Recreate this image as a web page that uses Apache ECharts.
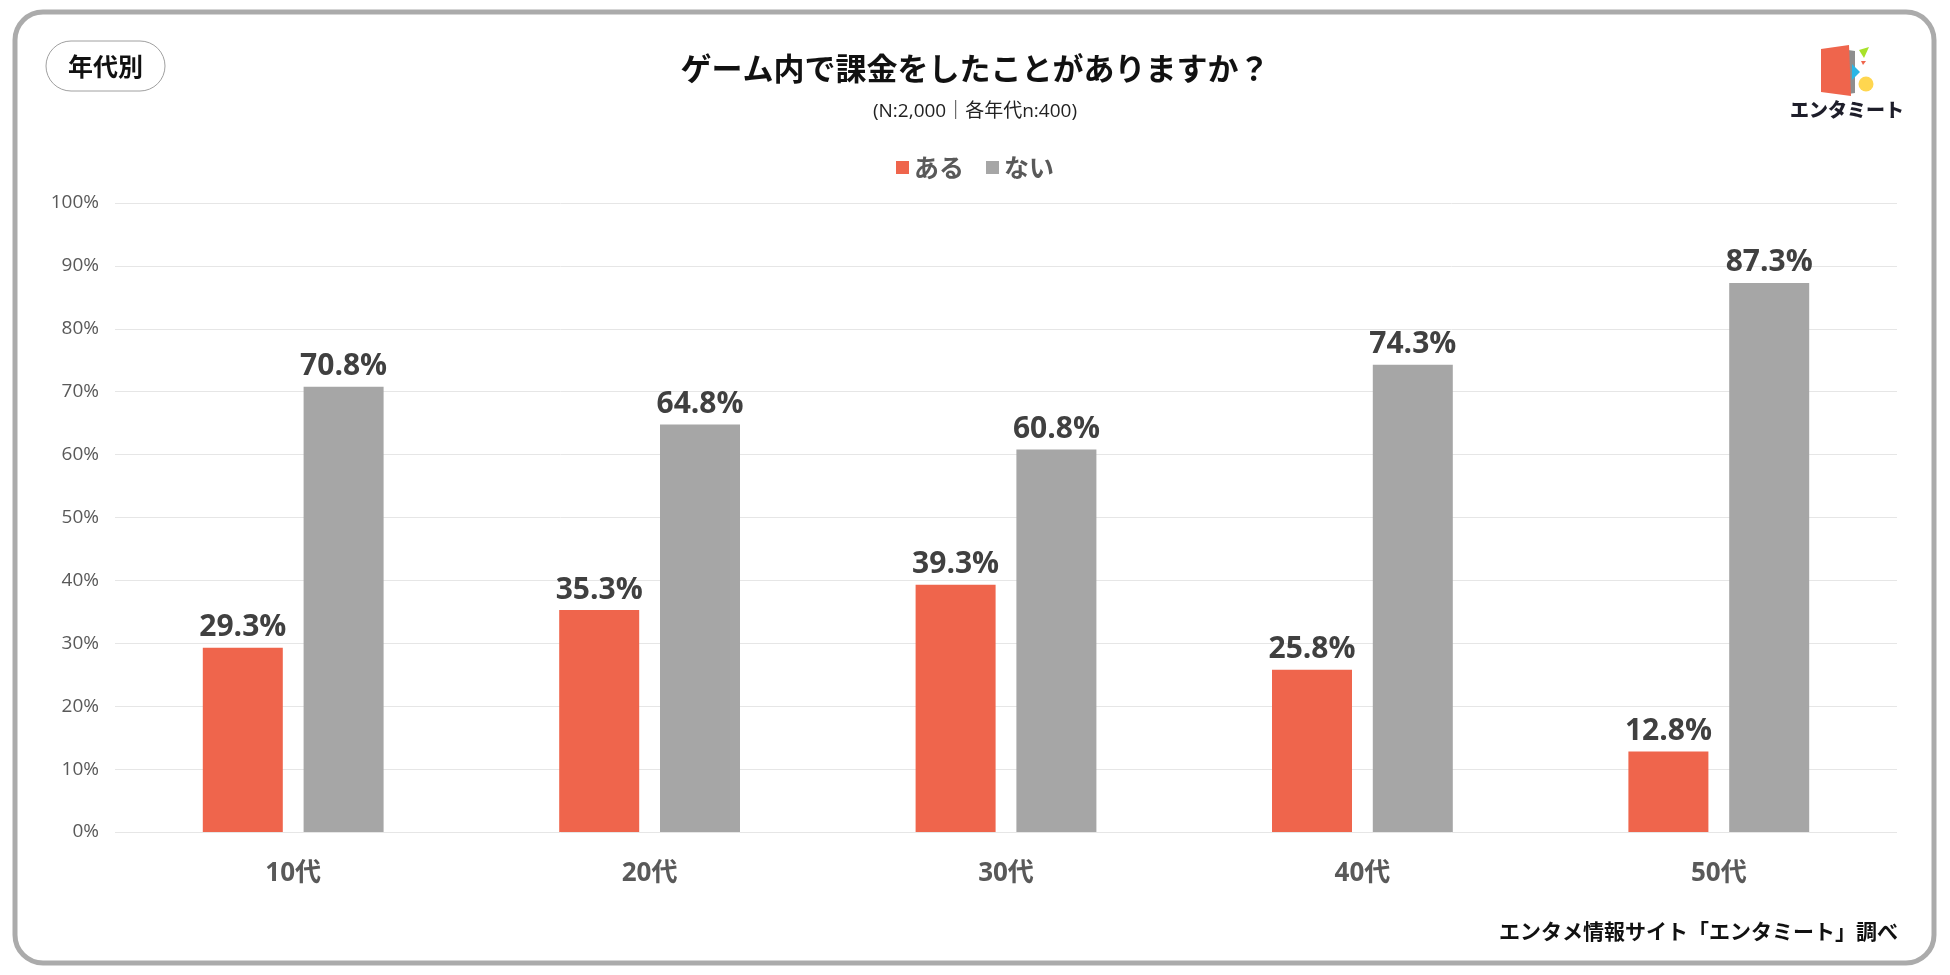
<!DOCTYPE html>
<html>
<head>
<meta charset="utf-8">
<script src="https://cdn.jsdelivr.net/npm/echarts@6/dist/echarts.min.js"></script>
<style>
html,body{margin:0;padding:0;background:#fff;}
#c{width:1950px;height:975px;}
</style>
</head>
<body>
<div id="c"></div>
<script>
const categories = ['10代', '20代', '30代', '40代', '50代'];
const seriesNames = ['ある', 'ない'];
const aruValues = [29.3, 35.3, 39.3, 25.8, 12.8];
const naiValues = [70.8, 64.8, 60.8, 74.3, 87.3];
const yTicks = [0, 10, 20, 30, 40, 50, 60, 70, 80, 90, 100];

const FONT = "'Open Sans', 'Noto Sans CJK JP', sans-serif";
const JP = "'Noto Sans CJK JP', sans-serif";
const RED = '#EF654C';
const GRAY = '#A6A6A6';

const chart = echarts.init(document.getElementById('c'));
const labelStyle = {
  show: true, position: 'top', distance: 5,
  formatter: p => p.value.toFixed(1) + '%',
  fontFamily: FONT, fontWeight: 'bold', fontSize: 30, color: '#404040'
};
chart.setOption({
  backgroundColor: '#fff',
  animation: false,
  title: [{
    text: 'ゲーム内で課金をしたことがありますか？',
    left: 'center', top: 48,
    textStyle: { fontFamily: JP, fontWeight: 'bold', fontSize: 31, color: '#111' }
  }, {
    text: '(N:2,000｜各年代n:400)',
    left: 'center', top: 97,
    textStyle: { fontFamily: FONT, fontWeight: 'normal', fontSize: 19, color: '#222' }
  }],
  legend: {
    data: seriesNames,
    top: 150, left: 'center',
    icon: 'rect', itemWidth: 13, itemHeight: 13, itemGap: 22,
    textStyle: { fontFamily: JP, fontWeight: 'bold', fontSize: 25, color: '#595959' }
  },
  grid: { left: 115, right: 53, top: 203, bottom: 143, containLabel: false },
  xAxis: {
    type: 'category', data: categories,
    axisLine: { show: false }, axisTick: { show: false },
    axisLabel: { margin: 29, fontFamily: FONT, fontWeight: 'bold', fontSize: 26, color: '#595959' }
  },
  yAxis: {
    type: 'value', min: 0, max: 100, interval: 10,
    axisLine: { show: false }, axisTick: { show: false },
    axisLabel: {
      margin: 16, fontFamily: FONT, fontSize: 19, color: '#595959',
      formatter: v => yTicks.includes(v) ? v + '%' : ''
    },
    splitLine: { lineStyle: { color: '#E6E6E6', width: 1 } }
  },
  series: [{
    name: seriesNames[0], type: 'bar', data: aruValues,
    barWidth: 80, barGap: '26%',
    itemStyle: { color: RED }, label: labelStyle
  }, {
    name: seriesNames[1], type: 'bar', data: naiValues,
    barWidth: 80, barGap: '26%',
    itemStyle: { color: GRAY }, label: labelStyle
  }],
  graphic: [
    { type: 'rect', shape: { x: 15, y: 12, width: 1919, height: 951, r: 28 },
      style: { fill: 'none', stroke: '#ABABAB', lineWidth: 5 }, z: 100 },
    { type: 'rect', shape: { x: 46, y: 41, width: 119, height: 50, r: 25 },
      style: { fill: '#fff', stroke: '#A0A0A0', lineWidth: 1 } },
    { type: 'text', x: 105.5, y: 66,
      style: { text: '年代別', fontFamily: JP, fontWeight: 'bold', fontSize: 25, fill: '#111',
        align: 'center', verticalAlign: 'middle' } },
    // logo
    { type: 'polygon', shape: { points: [[1848, 50], [1855, 51], [1855, 93], [1848, 94]] },
      style: { fill: '#8E8E8E' } },
    { type: 'polygon', shape: { points: [[1821, 49], [1849, 45], [1851, 96], [1821, 92]] },
      style: { fill: '#EF654C' } },
    { type: 'polygon', shape: { points: [[1852, 64], [1860, 72], [1852, 80]] },
      style: { fill: '#29B6E6' } },
    { type: 'polygon', shape: { points: [[1859, 50], [1869, 47], [1864, 58]] },
      style: { fill: '#A8E22A' } },
    { type: 'polygon', shape: { points: [[1861, 61], [1866, 61], [1863, 65]] },
      style: { fill: '#EF654C' } },
    { type: 'circle', shape: { cx: 1866, cy: 84, r: 7.5 }, style: { fill: '#FFD64F' } },
    { type: 'text', x: 1847, y: 110,
      style: { text: 'エンタミート', fontFamily: JP, fontWeight: 900, fontSize: 19, fill: '#1E1E2A',
        align: 'center', verticalAlign: 'middle' } },
    // footer
    { type: 'text', x: 1898, y: 931,
      style: { text: 'エンタメ情報サイト「エンタミート」調べ', fontFamily: JP, fontWeight: 'bold',
        fontSize: 21, fill: '#111', align: 'right', verticalAlign: 'middle' } }
  ]
});
</script>
</body>
</html>
